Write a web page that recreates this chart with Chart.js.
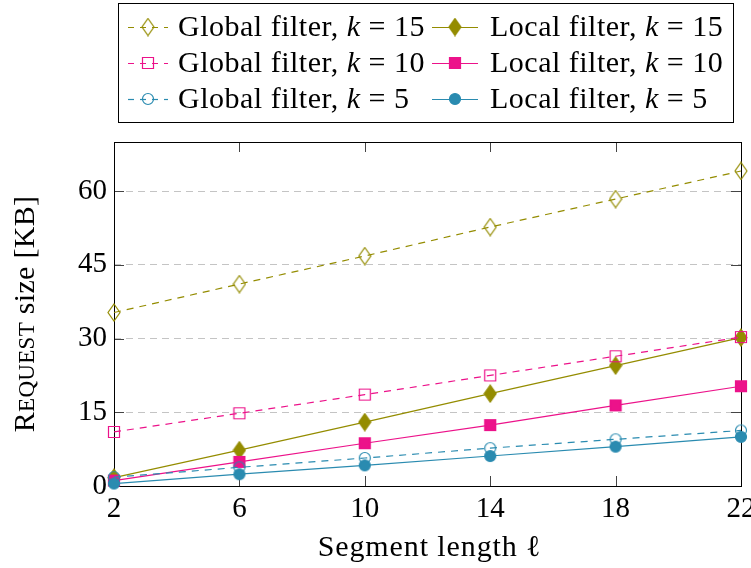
<!DOCTYPE html>
<html>
<head>
<meta charset="utf-8">
<script src="https://cdn.jsdelivr.net/npm/chart.js@4.4.1/dist/chart.umd.min.js"></script>
<style>
html,body{margin:0;padding:0;background:#fff;}
#wrap{width:751px;height:568px;position:relative;}
</style>
</head>
<body>
<div id="wrap"><canvas id="c" width="751" height="568"></canvas></div>
<script>
// ---- data ----
const segLength = [2, 6, 10, 14, 18, 22];
const globalK15 = [35.3, 41.1, 46.8, 52.7, 58.4, 64.1];
const localK15  = [1.7, 7.3, 13.0, 18.8, 24.5, 30.2];
const globalK10 = [11.0, 14.8, 18.6, 22.5, 26.4, 30.3];
const localK10  = [1.1, 4.9, 8.7, 12.4, 16.4, 20.3];
const globalK5  = [1.8, 3.8, 5.7, 7.7, 9.5, 11.3];
const localK5   = [0.5, 2.4, 4.2, 6.1, 8.0, 10.0];
const xTicks = [2, 6, 10, 14, 18, 22];
const yTicks = [0, 15, 30, 45, 60];
const seriesNames = ["Global filter", "Local filter", "Global filter", "Local filter", "Global filter", "Local filter"];
const seriesK = ["15", "15", "10", "10", "5", "5"];

const FONT = "'Liberation Serif', 'DejaVu Serif', serif";
const FS = 29;
const OLIVE = '#948c00', PINK = '#ec128a', TEAL = '#2a8bb0';

function marker(shape, color, filled) {
  const c = document.createElement('canvas');
  let w, h;
  if (shape === 'diamond') { w = 12; h = 17; }
  else { w = 12; h = 12; }
  c.width = w + 2; c.height = h + 2;
  const g = c.getContext('2d');
  g.strokeStyle = color; g.fillStyle = color; g.lineWidth = 1.2;
  const cx = c.width / 2, cy = c.height / 2;
  g.beginPath();
  if (shape === 'diamond') {
    g.moveTo(cx, cy - h / 2); g.lineTo(cx + w / 2, cy); g.lineTo(cx, cy + h / 2); g.lineTo(cx - w / 2, cy); g.closePath();
  } else if (shape === 'square') {
    g.rect(cx - w / 2 + 0.5, cy - h / 2 + 0.5, w - 1, h - 1);
  } else {
    g.arc(cx, cy, w / 2 - 0.5, 0, Math.PI * 2);
  }
  if (filled) g.fill();
  g.stroke();
  return c;
}

const mk = [
  marker('diamond', OLIVE, false), marker('diamond', OLIVE, true),
  marker('square', PINK, false), marker('square', PINK, true),
  marker('circle', TEAL, false), marker('circle', TEAL, true)
];
const colors = [OLIVE, OLIVE, PINK, PINK, TEAL, TEAL];
const values = [globalK15, localK15, globalK10, localK10, globalK5, localK5];

const datasets = values.map((vals, i) => ({
  label: seriesNames[i] + ', k = ' + seriesK[i],
  data: segLength.map((x, j) => ({ x: x, y: vals[j] })),
  borderColor: colors[i],
  backgroundColor: colors[i],
  borderWidth: 1.2,
  borderDash: (i % 2 === 0) ? [7, 6] : [],
  pointStyle: mk[i],
  pointRadius: 6,
  pointHoverRadius: 6,
  tension: 0,
  clip: false,
  order: 5 - i
}));

const framePlugin = {
  id: 'frame',
  beforeDatasetsDraw(chart) {
    const { ctx, chartArea: a, scales } = chart;
    ctx.save();
    ctx.strokeStyle = '#444'; ctx.lineWidth = 1;
    const TL = 10;
    ctx.beginPath();
    xTicks.forEach(v => {
      const px = Math.round(scales.x.getPixelForValue(v)) + 0.5;
      ctx.moveTo(px, a.bottom); ctx.lineTo(px, a.bottom - TL);
      ctx.moveTo(px, a.top); ctx.lineTo(px, a.top + TL);
    });
    yTicks.forEach(v => {
      const py = Math.round(scales.y.getPixelForValue(v)) + 0.5;
      ctx.moveTo(a.left, py); ctx.lineTo(a.left + TL, py);
      ctx.moveTo(a.right, py); ctx.lineTo(a.right - TL, py);
    });
    ctx.stroke();
    ctx.strokeStyle = '#000'; ctx.lineWidth = 1;
    ctx.strokeRect(Math.round(a.left) + 0.5, Math.round(a.top) + 0.5, Math.round(a.right - a.left), Math.round(a.bottom - a.top));
    ctx.restore();
  },
  afterDraw(chart) {
    const { ctx, chartArea: a } = chart;
    ctx.save();
    // y title with small caps
    ctx.translate(24, (a.top + a.bottom) / 2);
    ctx.rotate(-Math.PI / 2);
    ctx.fillStyle = '#000';
    ctx.letterSpacing = '0.3px';
    const parts = [['R', 30], ['EQUEST', 23], [' size [KB]', 30]];
    let total = 0;
    parts.forEach(p => { ctx.font = p[1] + 'px ' + FONT; total += ctx.measureText(p[0]).width; });
    let x = -total / 2;
    ctx.textBaseline = 'alphabetic';
    parts.forEach(p => { ctx.font = p[1] + 'px ' + FONT; ctx.fillText(p[0], x, 10); x += ctx.measureText(p[0]).width; });
    ctx.restore();

    // x title
    ctx.save();
    ctx.fillStyle = '#000';
    ctx.font = '30px ' + FONT;
    ctx.letterSpacing = '0.9px';
    ctx.textAlign = 'center';
    ctx.textBaseline = 'middle';
    ctx.fillText('Segment length ℓ', (a.left + a.right) / 2 + 2, 548);
    ctx.restore();

    // legend
    ctx.save();
    ctx.strokeStyle = '#000'; ctx.lineWidth = 1;
    ctx.strokeRect(118.5, 3.5, 615, 119);
    const colX = [[128, 168, 148, 178], [432, 478, 455, 490]];
    const rowY = [27, 63, 99];
    chart.data.datasets.forEach((ds, i) => {
      const c = colX[i % 2], y = rowY[Math.floor(i / 2)];
      ctx.letterSpacing = '0px';
      ctx.strokeStyle = ds.borderColor; ctx.lineWidth = 1.2;
      ctx.setLineDash(ds.borderDash.length ? [6, 6] : []);
      ctx.beginPath(); ctx.moveTo(c[0], y + 0.5); ctx.lineTo(c[1], y + 0.5); ctx.stroke();
      ctx.setLineDash([]);
      const im = ds.pointStyle;
      ctx.drawImage(im, c[2] - im.width / 2, y - im.height / 2);
      ctx.fillStyle = '#000';
      ctx.textBaseline = 'middle';
      ctx.letterSpacing = '0.5px';
      let tx = c[3];
      const segs = [[seriesNames[i] + ', ', '', 0], ['k', 'italic ', 8], ['=', '', 8], [seriesK[i], '', 0]];
      segs.forEach(s => {
        ctx.font = s[1] + '30px ' + FONT;
        ctx.fillText(s[0], tx, y + 1);
        tx += ctx.measureText(s[0]).width + s[2];
      });
    });
    ctx.restore();
  }
};

new Chart(document.getElementById('c'), {
  type: 'line',
  data: { datasets: datasets },
  plugins: [framePlugin],
  options: {
    responsive: false,
    animation: false,
    events: [],
    layout: { padding: { left: 50, right: 10, top: 142, bottom: 0 } },
    plugins: { legend: { display: false }, tooltip: { enabled: false } },
    scales: {
      x: {
        type: 'linear', min: 2, max: 22,
        afterBuildTicks(s) { s.ticks = xTicks.map(v => ({ value: v })); },
        afterFit(s) { s.height = 82; s.paddingRight = 0; s.paddingLeft = 0; },
        grid: { display: false, drawTicks: false },
        border: { display: false },
        ticks: { color: '#000', font: { family: FONT, size: FS }, padding: 6, maxRotation: 0, autoSkip: false },
        title: { display: false }
      },
      y: {
        type: 'linear', min: 0, max: 70,
        afterBuildTicks(s) { s.ticks = yTicks.map(v => ({ value: v })); },
        afterFit(s) { s.width = 64; },
        grid: {
          drawTicks: false,
          color: ctx => (ctx.tick && ctx.tick.value === 0) ? 'rgba(0,0,0,0)' : '#c4c4c4',
          lineWidth: 1
        },
        border: { display: false, dash: [7, 5] },
        ticks: { color: '#000', font: { family: FONT, size: FS }, padding: 7 }
      }
    }
  }
});
</script>
</body>
</html>
